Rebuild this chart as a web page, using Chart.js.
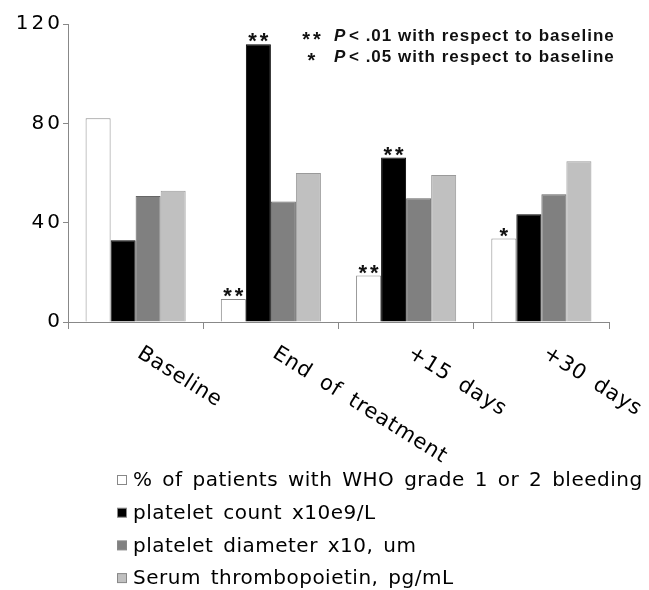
<!DOCTYPE html>
<html>
<head>
<meta charset="utf-8">
<script src="https://cdn.jsdelivr.net/npm/chart.js@4/dist/chart.umd.min.js"></script>
<style>
  html, body { margin: 0; padding: 0; background: #fff; }
  #wrap { width: 649px; height: 590px; position: relative; }
</style>
</head>
<body>
<div id="wrap"><canvas id="bleedChart"></canvas></div>
<script>
// values
const categories = ["Baseline", "End of treatment", "+15 days", "+30 days"];
const bleedingPct = [82, 9.3, 18.7, 33.6];
const plateletCount = [32.9, 111.8, 66.2, 43.4];
const plateletDiameter = [50.7, 48.5, 49.8, 51.4];
const thrombopoietin = [52.9, 60.0, 59.2, 64.7];
const seriesLabels = [
    "% of patients with WHO grade 1 or 2 bleeding",
    "platelet count x10e9/L",
    "platelet diameter x10, um",
    "Serum thrombopoietin, pg/mL"
];
const bleedingStars = ["", "**", "**", "*"];
const countStars = ["", "**", "**", ""];
const yTicks = [0, 40, 80, 120];
const noteLines = [
    ["**", "with respect to baseline", ".01"],
    ["*", "with respect to baseline", ".05"]
];

const geneva = "'DejaVu Sans', sans-serif";

// stars over bars, rotated category names, custom legend and the P-value note
const extrasPlugin = {
    id: "extras",
    beforeDraw(chart) {
        chart.ctx.letterSpacing = "3px";
    },
    beforeDatasetsDraw(chart) {
        chart.ctx.letterSpacing = "0px";
    },
    afterDraw(chart) {
        const ctx = chart.ctx;
        const x = chart.scales.x;

        // significance stars
        ctx.save();
        ctx.fillStyle = "#111";
        ctx.font = "bold 22px 'Liberation Sans', Arial, sans-serif";
        ctx.textAlign = "center";
        ctx.textBaseline = "alphabetic";
        ctx.letterSpacing = "3px";
        [[0, bleedingStars], [1, countStars]].forEach(([di, stars]) => {
            const meta = chart.getDatasetMeta(di);
            stars.forEach((s, i) => {
                if (!s) return;
                const bar = meta.data[i];
                ctx.fillText(s, bar.x + 1.5, bar.y + 4);
            });
        });
        ctx.restore();

        // rotated category labels
        ctx.save();
        ctx.fillStyle = "#000";
        ctx.font = "21px " + geneva;
        ctx.letterSpacing = "0.8px";
        ctx.wordSpacing = "5px";
        ctx.textAlign = "left";
        ctx.textBaseline = "top";
        categories.forEach((c, i) => {
            const px = x.getPixelForValue(i);
            ctx.save();
            ctx.translate(px + 9, 343);
            ctx.rotate(32 * Math.PI / 180);
            ctx.fillText(c, 0, 0);
            ctx.restore();
        });
        ctx.restore();

        // legend, one entry per row
        ctx.save();
        ctx.font = "20px " + geneva;
        ctx.letterSpacing = "0.5px";
        ctx.wordSpacing = "3px";
        ctx.textBaseline = "middle";
        ctx.textAlign = "left";
        chart.data.datasets.forEach((ds, i) => {
            const cy = 480 + i * 32.7;
            ctx.fillStyle = ds.backgroundColor;
            ctx.fillRect(117.5, cy - 4.5, 9, 9);
            ctx.strokeStyle = "#888";
            ctx.lineWidth = 1;
            ctx.strokeRect(117.5, cy - 4.5, 9, 9);
            ctx.fillStyle = "#000";
            ctx.fillText(ds.label, 133, cy + 1);
        });
        ctx.restore();

        // P-value note
        ctx.save();
        ctx.fillStyle = "#111";
        ctx.textBaseline = "alphabetic";
        noteLines.forEach((ln, i) => {
            const base = 41 + i * 21;
            ctx.letterSpacing = "3px";
            ctx.font = "bold 20px 'Liberation Sans', Arial, sans-serif";
            ctx.textAlign = "center";
            ctx.fillText(ln[0], 313, base + 5);
            ctx.textAlign = "left";
            ctx.letterSpacing = "1px";
            ctx.font = "italic bold 17px 'Liberation Sans', Arial, sans-serif";
            ctx.fillText("P", 334, base);
            ctx.font = "bold 17px 'Liberation Sans', Arial, sans-serif";
            ctx.fillText("< " + ln[2] + " " + ln[1], 349, base);
        });
        ctx.restore();
    }
};

const ctx = document.getElementById("bleedChart").getContext("2d");
new Chart(ctx, {
    type: "bar",
    data: {
        labels: categories,
        datasets: [
            { label: seriesLabels[0], data: bleedingPct, backgroundColor: "#ffffff", borderColor: "#8a8a8a" },
            { label: seriesLabels[1], data: plateletCount, backgroundColor: "#000000", borderColor: "#000000" },
            { label: seriesLabels[2], data: plateletDiameter, backgroundColor: "#808080", borderColor: "#666666" },
            { label: seriesLabels[3], data: thrombopoietin, backgroundColor: "#c0c0c0", borderColor: "#9a9a9a" }
        ]
    },
    options: {
        responsive: true,
        maintainAspectRatio: false,
        animation: false,
        layout: { padding: { top: 24, right: 40, left: 0, bottom: 0 } },
        datasets: {
            bar: { categoryPercentage: 0.74, barPercentage: 1.0, borderWidth: 1 }
        },
        plugins: {
            legend: { display: false },
            tooltip: { enabled: false }
        },
        scales: {
            x: {
                offset: true,
                ticks: { display: false },
                grid: { drawOnChartArea: false, tickLength: 7, color: "#888" },
                border: { color: "#888" },
                afterFit(scale) { scale.height = 268; }
            },
            y: {
                min: 0,
                max: 120,
                afterBuildTicks(scale) { scale.ticks = yTicks.map(v => ({ value: v })); },
                ticks: { color: "#000", padding: 0, font: { size: 20, family: geneva } },
                grid: { drawOnChartArea: false, tickLength: 5, color: "#888" },
                border: { color: "#888" },
                afterFit(scale) { scale.width = 68; }
            }
        }
    },
    plugins: [extrasPlugin]
});
</script>
</body>
</html>
